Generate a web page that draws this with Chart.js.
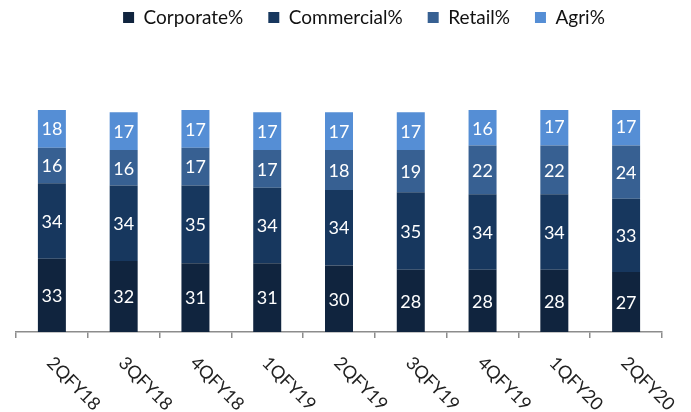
<!DOCTYPE html>
<html>
<head>
<meta charset="utf-8">
<script src="https://cdn.jsdelivr.net/npm/chart.js@4"></script>
<style>
  html, body { margin: 0; padding: 0; background: #fff; }
  #wrap { width: 691px; height: 412px; }
</style>
</head>
<body>
<div id="wrap"><canvas id="chart" width="691" height="412"></canvas></div>
<script>
// ---------- Data ----------
const quarters = ["2QFY18", "3QFY18", "4QFY18", "1QFY19", "2QFY19", "3QFY19", "4QFY19", "1QFY20", "2QFY20"];
const corporate = [33, 32, 31, 31, 30, 28, 28, 28, 27];
const commercial = [34, 34, 35, 34, 34, 35, 34, 34, 33];
const retail = [16, 16, 17, 17, 18, 19, 22, 22, 24];
const agri = [18, 17, 17, 17, 17, 17, 16, 17, 17];

const FONT = "Lato, 'Open Sans', sans-serif";

// values written inside each segment
const valueLabels = {
  id: "valueLabels",
  afterDatasetsDraw(chart) {
    const ctx = chart.ctx;
    ctx.save();
    ctx.fillStyle = "#fff";
    ctx.font = "18px " + FONT;
    ctx.textAlign = "center";
    ctx.textBaseline = "middle";
    chart.data.datasets.forEach((ds, i) => {
      chart.getDatasetMeta(i).data.forEach((bar, j) => {
        const p = bar.getProps(["x", "y", "base"], true);
        ctx.fillText(ds.data[j], p.x, (p.y + p.base) / 2 + 1);
      });
    });
    ctx.restore();
  }
};

// x labels slanting down to the right
const slantLabels = {
  id: "slantLabels",
  afterDraw(chart) {
    const ctx = chart.ctx;
    const xs = chart.scales.x;
    ctx.save();
    ctx.fillStyle = "#222";
    ctx.font = "18px " + FONT;
    ctx.textAlign = "left";
    ctx.textBaseline = "middle";
    quarters.forEach((q, i) => {
      const x = xs.getPixelForTick(i);
      ctx.save();
      ctx.translate(x - 2, 360);
      ctx.rotate(Math.PI / 4);
      ctx.fillText(q, 0, 0);
      ctx.restore();
    });
    ctx.restore();
  }
};

// extra room under the legend, and nudge it right like the original
const legendGap = {
  id: "legendGap",
  beforeInit(chart) {
    const fit = chart.legend.fit;
    chart.legend.fit = function () {
      fit.bind(chart.legend)();
      this.height += 73;
    };
  },
  afterLayout(chart) {
    chart.legend.left += 25;
    chart.legend.right += 25;
  }
};

const ctx = document.getElementById("chart").getContext("2d");
new Chart(ctx, {
  type: "bar",
  data: {
    labels: quarters,
    datasets: [
      { label: "Corporate%", data: corporate, backgroundColor: "#10243e" },
      { label: "Commercial%", data: commercial, backgroundColor: "#17375e" },
      { label: "Retail%", data: retail, backgroundColor: "#376092" },
      { label: "Agri%", data: agri, backgroundColor: "#558ed5" }
    ]
  },
  options: {
    responsive: false,
    animation: false,
    layout: { padding: { top: -17, left: 16, right: 29, bottom: 74 } },
    datasets: { bar: { categoryPercentage: 1, barPercentage: 0.39, borderWidth: 0 } },
    plugins: {
      legend: {
        position: "top",
        labels: {
          color: "#111",
          font: { family: FONT, size: 19 },
          boxWidth: 11,
          boxHeight: 11,
          padding: 25
        }
      },
      tooltip: { enabled: false }
    },
    scales: {
      x: {
        stacked: true,
        ticks: { display: false },
        grid: { offset: true, drawOnChartArea: false, drawTicks: true, tickLength: 6, color: "#8c8c8c", lineWidth: 1.5 },
        border: { display: true, color: "#8c8c8c", width: 1.5 }
      },
      y: {
        stacked: true,
        display: false,
        min: 0,
        max: 100
      }
    }
  },
  plugins: [valueLabels, slantLabels, legendGap]
});
</script>
</body>
</html>
